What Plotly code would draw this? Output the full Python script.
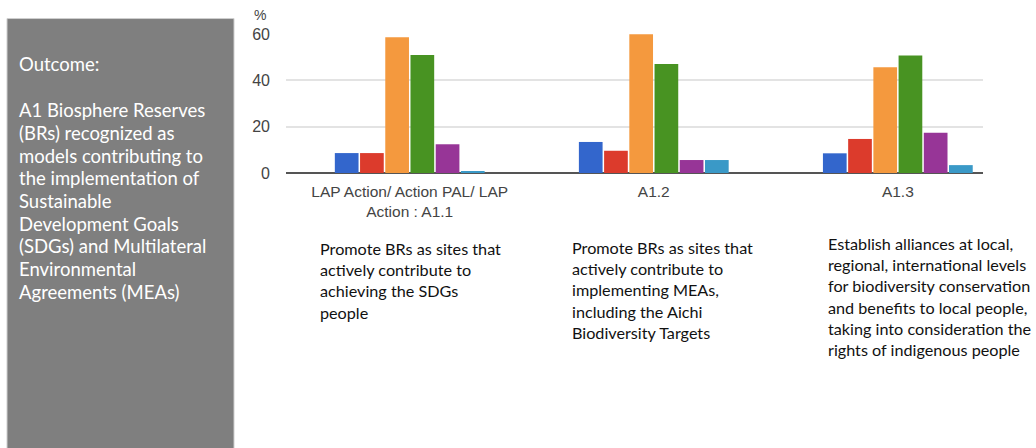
import plotly.graph_objects as go

# data
categories = ["LAP Action/ Action PAL/ LAP<br>Action : A1.1", "A1.2", "A1.3"]
series_names = ["s1", "s2", "s3", "s4", "s5", "s6"]
series_values = [
    [8.6, 13.4, 8.5],
    [8.6, 9.6, 14.7],
    [58.6, 59.9, 45.7],
    [50.9, 47.0, 50.7],
    [12.4, 5.6, 17.4],
    [0.7, 5.6, 3.4],
]
colors = ["#3366cc", "#dc3b2c", "#f4993e", "#489322", "#973597", "#3a99c7"]

outcome_lines = [
    "Outcome:",
    "",
    "A1 Biosphere Reserves",
    "(BRs) recognized as",
    "models contributing to",
    "the implementation of",
    "Sustainable",
    "Development Goals",
    "(SDGs) and Multilateral",
    "Environmental",
    "Agreements (MEAs)",
]
descriptions = [
    ["Promote BRs as sites that", "actively contribute to", "achieving the SDGs", "people"],
    ["Promote BRs as sites that", "actively contribute to", "implementing MEAs,",
     "including the Aichi", "Biodiversity Targets"],
    ["Establish alliances at local,", "regional, international levels",
     "for biodiversity conservation", "and benefits to local people,",
     "taking into consideration the", "rights of indigenous people"],
]

W, H = 1036, 448
PL, PR, PT, PB = 286, 983, 33.5, 172.7


def px(x):
    return (x - PL) / (PR - PL)


def py(y):
    return (PB - y) / (PB - PT)


fig = go.Figure()
for name, vals, color in zip(series_names, series_values, colors):
    fig.add_trace(
        go.Bar(
            x=list(range(len(categories))),
            y=vals,
            name=name,
            marker={"color": color, "line": {"width": 0}},
            showlegend=False,
        )
    )

fig.update_layout(
    width=W,
    height=H,
    margin={"l": PL, "r": W - PR, "t": PT, "b": H - PB, "pad": 0},
    plot_bgcolor="white",
    paper_bgcolor="white",
    barmode="group",
    bargap=0.38,
    bargroupgap=0.06,
    font={"family": "Liberation Sans, Arial, sans-serif", "color": "#444"},
)

fig.update_xaxes(
    range=[-0.507, 2.349],
    tickvals=list(range(len(categories))),
    ticktext=categories,
    tickfont={"size": 15.5, "color": "#444"},
    showgrid=False,
    zeroline=False,
    showline=False,
    ticks="",
    ticklabelstandoff=7,
)
fig.update_yaxes(
    range=[0, 60],
    tickvals=[0, 20, 40, 60],
    tickfont={"size": 16, "color": "#444"},
    gridcolor="#e3e3e3",
    gridwidth=1.5,
    zeroline=True,
    zerolinecolor="#555",
    zerolinewidth=1.5,
    ticks="",
    ticklabelstandoff=15,
)

shapes = [
    dict(type="rect", xref="paper", yref="paper",
         x0=px(7), x1=px(234), y0=py(18), y1=py(449),
         fillcolor="#7f7f7f", line={"color": "#cfcfcf", "width": 1}, layer="below"),
]
fig.update_layout(shapes=shapes)

annotations = [
    dict(text="%", x=px(252), y=py(14), xanchor="left", yanchor="middle",
         font={"size": 14, "color": "#444"}),
]
ys = [64, 87] + [110 + 22.7 * i for i in range(len(outcome_lines) - 2)]
for line, y in zip(outcome_lines, ys):
    if line:
        annotations.append(dict(text=line, x=px(17), y=py(y), xanchor="left", yanchor="middle",
                                font={"family": "Lato, sans-serif", "size": 18.5, "color": "white"}))

desc_pos = [(318, 248), (570, 247), (826, 243)]
for lines, (x, ytop) in zip(descriptions, desc_pos):
    for i, line in enumerate(lines):
        annotations.append(dict(text=line, x=px(x), y=py(ytop + 21.3 * i), xanchor="left",
                                yanchor="middle",
                                font={"family": "Lato, sans-serif", "size": 16.2, "color": "#111"}))

for a in annotations:
    a.update(xref="paper", yref="paper", showarrow=False)
fig.update_layout(annotations=annotations)

fig.write_html(
    "out.html",
    config={"displayModeBar": False},
    post_script="document.body.style.margin='0';",
)
